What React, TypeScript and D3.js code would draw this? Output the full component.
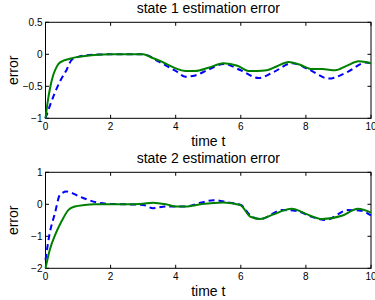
import React from 'react';
import * as d3 from 'd3';

// time axis ticks (shared)
const xTicks = [0, 2, 4, 6, 8, 10];

// state 1
const s1Ticks = [-1, -0.5, 0, 0.5];
const s1GreenT = [0, 0.08, 0.16, 0.24, 0.32, 0.4, 0.55, 0.75, 1.0, 1.5, 2.0, 2.5, 3.0, 3.25, 3.5, 3.75, 4.0, 4.3, 4.6, 5.0, 5.47, 5.9, 6.24, 6.5, 6.8, 7.1, 7.47, 7.8, 8.19, 8.5, 8.9, 9.25, 9.62, 10];
const s1Green = [-1, -0.7, -0.48, -0.32, -0.22, -0.15, -0.1, -0.07, -0.04, -0.01, 0, 0, 0, -0.05, -0.1, -0.16, -0.22, -0.26, -0.26, -0.21, -0.14, -0.18, -0.26, -0.26, -0.25, -0.19, -0.12, -0.16, -0.23, -0.23, -0.25, -0.18, -0.11, -0.14];
const s1BlueT = [0, 0.24, 0.44, 0.65, 0.8, 1.0, 1.5, 2.0, 2.5, 3.0, 3.5, 4.0, 4.3, 4.6, 5.0, 5.47, 6.0, 6.55, 7.0, 7.57, 8.1, 8.7, 9.3, 9.83, 10];
const s1Blue = [-1, -0.66, -0.43, -0.24, -0.09, -0.04, -0.005, 0, 0, 0, -0.12, -0.26, -0.35, -0.33, -0.24, -0.15, -0.25, -0.37, -0.28, -0.14, -0.24, -0.38, -0.27, -0.13, -0.14];

// state 2
const s2Ticks = [-2, -1, 0, 1];
const s2GreenT = [0, 0.13, 0.29, 0.49, 0.7, 0.9, 1.2, 1.5, 2, 2.5, 3.0, 3.3, 3.7, 4.0, 4.3, 4.8, 5.47, 5.98, 6.3, 6.6, 6.96, 7.57, 8.0, 8.5, 9.1, 9.6, 10];
const s2Green = [-2, -1.43, -0.97, -0.54, -0.18, -0.07, -0.02, 0, 0, 0, 0.02, 0.05, 0, -0.07, -0.07, 0.01, 0.06, -0.02, -0.39, -0.46, -0.33, -0.14, -0.3, -0.46, -0.36, -0.14, -0.26];
const s2BlueT = [0, 0.13, 0.29, 0.44, 0.65, 1.05, 1.56, 2, 2.5, 3.0, 3.3, 3.7, 4.3, 4.8, 5.16, 5.6, 6.0, 6.3, 6.6, 7.26, 7.67, 8.2, 8.6, 9.3, 9.7, 10];
const s2Blue = [-1.74, -0.9, -0.28, 0.29, 0.4, 0.24, 0.06, 0.01, 0, -0.02, -0.12, -0.07, -0.07, 0.06, 0.13, 0.06, -0.02, -0.35, -0.46, -0.18, -0.2, -0.4, -0.49, -0.18, -0.2, -0.35];

const FONT = '"Liberation Sans", Arial, sans-serif';

type PanelProps = {
  top: number;
  title: string;
  yTicks: number[];
  greenT: number[];
  green: number[];
  blueT: number[];
  blue: number[];
};

const Panel = ({ top, title, yTicks, greenT, green, blueT, blue }: PanelProps) => {
  const left = 45.5, right = 371, h = 96;
  const x = d3.scaleLinear().domain([0, 10]).range([left, right]);
  const y = d3.scaleLinear().domain([yTicks[0], yTicks[yTicks.length - 1]]).range([top + h, top]);
  const line = d3.line<number>()
    .x(d => x(d))
    .curve(d3.curveMonotoneX);
  const path = (ts: number[], vs: number[]) =>
    line.y((_d, i) => y(vs[i]))(ts) || '';
  const fmt = (v: number) => String(v).replace('-', '\u2212');

  return (
    <g>
      <text x={(left + right) / 2} y={top - 9} textAnchor="middle" fontSize={14} fontFamily={FONT}>{title}</text>
      <rect x={left} y={top} width={right - left} height={h} fill="white" stroke="black" strokeWidth={1} />
      {xTicks.map(t => (
        <g key={'x' + t}>
          <line x1={x(t)} x2={x(t)} y1={top + h} y2={top + h - 3.5} stroke="black" />
          <line x1={x(t)} x2={x(t)} y1={top} y2={top + 3.5} stroke="black" />
          <text x={x(t)} y={top + h + 12} textAnchor="middle" fontSize={10} fontFamily={FONT}>{t}</text>
        </g>
      ))}
      {yTicks.map(v => (
        <g key={'y' + v}>
          <line x1={left} x2={left + 3.5} y1={y(v)} y2={y(v)} stroke="black" />
          <line x1={right} x2={right - 3.5} y1={y(v)} y2={y(v)} stroke="black" />
          <text x={left - 3} y={y(v)} dy="0.35em" textAnchor="end" fontSize={10} fontFamily={FONT}>{fmt(v)}</text>
        </g>
      ))}
      <path d={path(blueT, blue)} fill="none" stroke="#0000ff" strokeWidth={2} strokeDasharray="6,4" />
      <path d={path(greenT, green)} fill="none" stroke="#008000" strokeWidth={2} />
      <text x={(left + right) / 2} y={top + h + 28} textAnchor="middle" fontSize={14} fontFamily={FONT}>time t</text>
      <text transform={`translate(18,${top + h / 2}) rotate(-90)`} textAnchor="middle" fontSize={14} fontFamily={FONT}>error</text>
    </g>
  );
};

export default function App() {
  return (
    <svg width={375} height={300} style={{ position: 'absolute', left: 0, top: 0, background: 'white' }}>
      <Panel top={22.3} title="state 1 estimation error" yTicks={s1Ticks}
        greenT={s1GreenT} green={s1Green} blueT={s1BlueT} blue={s1Blue} />
      <Panel top={172.3} title="state 2 estimation error" yTicks={s2Ticks}
        greenT={s2GreenT} green={s2Green} blueT={s2BlueT} blue={s2Blue} />
    </svg>
  );
}
